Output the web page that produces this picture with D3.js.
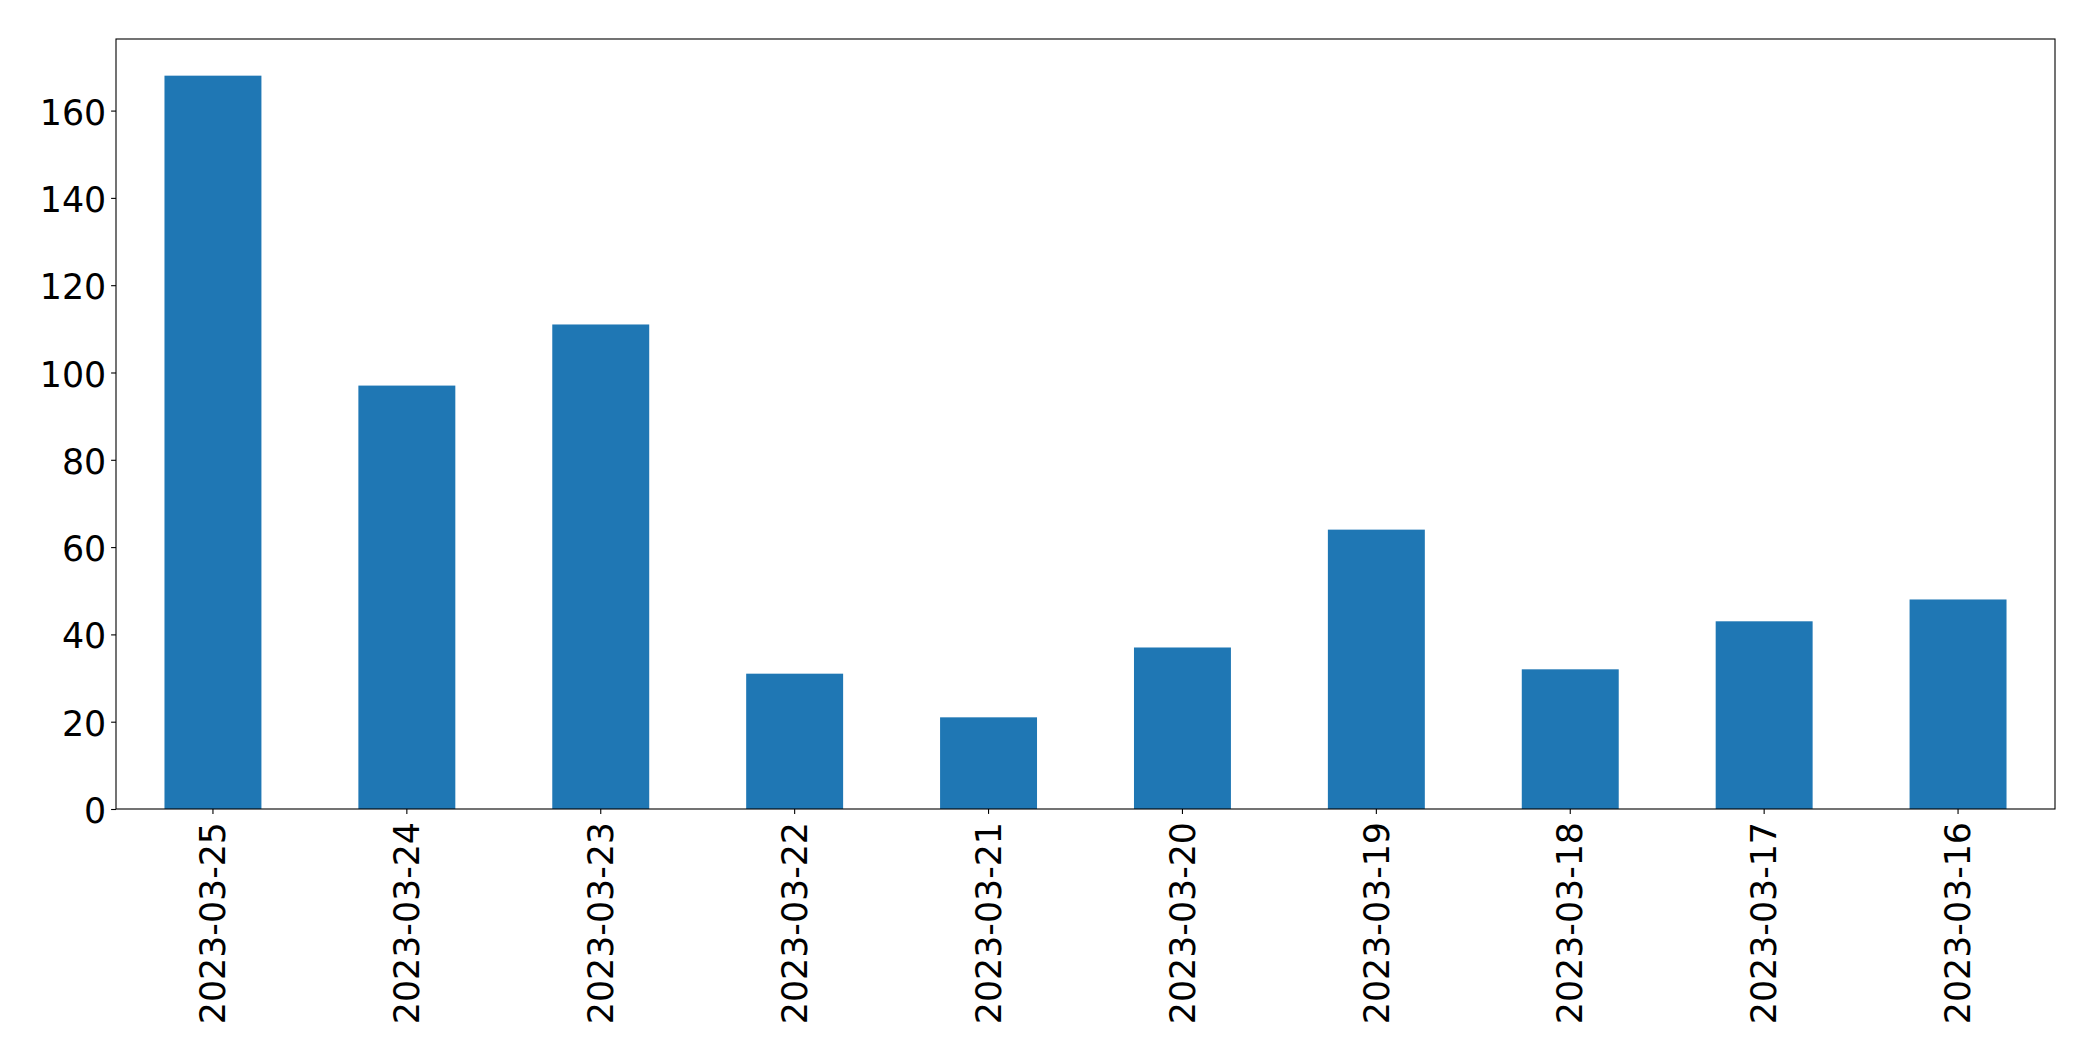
<!DOCTYPE html>
<html>
<head>
<meta charset="utf-8">
<script src="https://cdn.jsdelivr.net/npm/d3@7"></script>
<style>
  body { margin: 0; background: #fff; }
  svg { display: block; }
  text { font-family: "DejaVu Sans", sans-serif; }
</style>
</head>
<body>
<div id="chart"></div>
<script>
// datos
const dates = ["2023-03-25", "2023-03-24", "2023-03-23", "2023-03-22", "2023-03-21",
               "2023-03-20", "2023-03-19", "2023-03-18", "2023-03-17", "2023-03-16"];
const counts = [168, 97, 111, 31, 21, 37, 64, 32, 43, 48];
const yTicks = [0, 20, 40, 60, 80, 100, 120, 140, 160];

const width = 2093, height = 1061;
const margin = { top: 39, right: 38, bottom: 252, left: 116 };
const innerW = width - margin.left - margin.right;
const innerH = height - margin.top - margin.bottom;
const fontSize = "34.8px";

const svg = d3.select("#chart").append("svg")
    .attr("width", width)
    .attr("height", height);

const g = svg.append("g").attr("transform", `translate(${margin.left},${margin.top})`);

const x = d3.scaleBand()
    .domain(dates)
    .range([0, innerW])
    .paddingInner(0.5)
    .paddingOuter(0.25);

const y = d3.scaleLinear()
    .domain([0, d3.max(counts) * 1.05])
    .range([innerH, 0]);

// barras
g.selectAll("rect.bar")
    .data(dates.map((d, i) => ({ date: d, value: counts[i] })))
    .join("rect")
    .attr("class", "bar")
    .attr("x", d => x(d.date))
    .attr("y", d => y(d.value))
    .attr("width", x.bandwidth())
    .attr("height", d => innerH - y(d.value))
    .attr("fill", "#1f77b4");

// eje y
const yAxis = g.append("g")
    .call(d3.axisLeft(y).tickValues(yTicks).tickSize(4.9).tickPadding(4.9));
yAxis.select(".domain").remove();
yAxis.selectAll("text").attr("font-size", fontSize).attr("fill", "#000").attr("dy", "0.39em");
yAxis.selectAll("line").attr("stroke", "#000").attr("stroke-width", 1.1);

// eje x
const xAxis = g.append("g")
    .attr("transform", `translate(0,${innerH})`)
    .call(d3.axisBottom(x).tickSize(4.9).tickPadding(0));
xAxis.select(".domain").remove();
xAxis.selectAll("line").attr("stroke", "#000").attr("stroke-width", 1.1);
xAxis.selectAll("text")
    .attr("font-size", fontSize)
    .attr("fill", "#000")
    .attr("transform", "translate(0,13) rotate(-90)")
    .attr("dy", "0.35em")
    .attr("x", 0)
    .attr("y", 0)
    .attr("text-anchor", "end");

// marco
g.append("rect")
    .attr("width", innerW)
    .attr("height", innerH)
    .attr("fill", "none")
    .attr("stroke", "#000")
    .attr("stroke-width", 1.1);
</script>
</body>
</html>
